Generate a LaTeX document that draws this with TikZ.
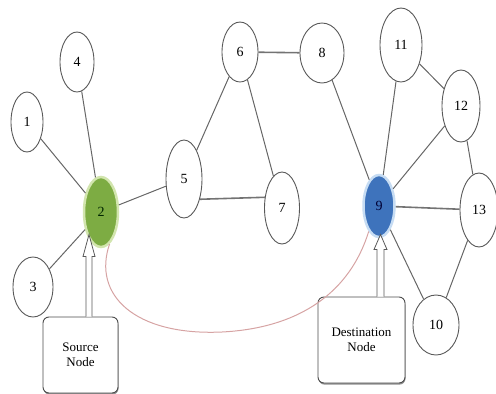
\documentclass[tikz,border=0pt]{standalone}
\usepackage{fontspec}
\setmainfont{Liberation Serif}
\usetikzlibrary{shapes.geometric,calc,shadows}
\definecolor{grnfill}{HTML}{7DAC43}
\definecolor{grnhalo}{HTML}{D2E5AE}
\definecolor{blufill}{HTML}{3E73BC}
\definecolor{bluhalo}{HTML}{C6DCF3}
\definecolor{pathred}{HTML}{D6A3A3}
\begin{document}
\begin{tikzpicture}[x=1pt,y=-1pt,
  vert/.style={ellipse,draw=black!65,line width=0.9pt,fill=white,inner sep=0pt,
    font=\fontsize{14}{16}\selectfont},
  src/.style={vert,draw=grnhalo,line width=2.5pt,fill=grnfill,text=black!85!green},
  dst/.style={vert,draw=bluhalo,line width=2.5pt,fill=blufill,text=black!80!blue},
  edge/.style={draw=black!60,line width=1pt},
  thick edge/.style={draw=black!55,line width=1.6pt},
  box/.style={draw=black!70,line width=0.9pt,rounded corners=6pt,fill=white,align=center,
    inner sep=0pt,font=\fontsize{13}{15}\selectfont,
    drop shadow={shadow xshift=0.5pt,shadow yshift=-1.6pt,fill=black!55,opacity=0.8}},
  hollow arrow/.style={draw=black!65,line width=0.8pt,fill=white,line join=miter},
  route/.style={draw=pathred,line width=1pt}
]
\useasboundingbox (0,0) rectangle (496,394);

% vertices
\node[vert,minimum width=32pt,minimum height=60pt] (n1) at (27,122) {1};
\node[vert,minimum width=34pt,minimum height=60pt] (n4) at (77,62) {4};
\node[vert,minimum width=40pt,minimum height=60pt] (n3) at (33,287) {3};
\node[src,minimum width=34pt,minimum height=70pt] (n2) at (101,212) {2};
\node[vert,minimum width=36pt,minimum height=78pt] (n5) at (184,179) {5};
\node[vert,minimum width=36pt,minimum height=60pt] (n6) at (240,52) {6};
\node[vert,minimum width=35pt,minimum height=72pt] (n7) at (282,208) {7};
\node[vert,minimum width=44pt,minimum height=60pt] (n8) at (322,53) {8};
\node[dst,minimum width=31pt,minimum height=62pt] (n9) at (379,206) {9};
\node[vert,minimum width=46pt,minimum height=60pt] (n10) at (436,325) {10};
\node[vert,minimum width=42pt,minimum height=74pt] (n11) at (401,45) {11};
\node[vert,minimum width=38pt,minimum height=72pt] (n12) at (461,106) {12};
\node[vert,minimum width=38pt,minimum height=74pt] (n13) at (479,210) {13};

% label boxes
\node[box,minimum width=75pt,minimum height=76pt] (sbox) at (80.5,355) {Source\\Node};
\node[box,minimum width=87pt,minimum height=86pt] (dbox) at (361.5,340) {Destination\\Node};

% edges
\draw[edge] (n1) -- (n2);
\draw[edge] (n4) -- (n2);
\draw[edge] (n3) -- (n2);
\draw[edge] (n2) -- (n5);
\draw[edge] (n5) -- (n6);
\draw[thick edge] (n5.-52.6) -- (n7.148.5);
\draw[thick edge] (n6) -- (n8);
\draw[edge] (n6) -- (n7);
\draw[edge] (n8) -- (n9);
\draw[edge] (n11) -- (n9);
\draw[edge] (n12) -- (n9);
\draw[thick edge] (n9) -- (n13);
\draw[edge] (n9) -- (n10);
\draw[edge] (n11) -- (n12);
\draw[edge] (n12) -- (n13);
\draw[edge] (n13) -- (n10);

% route from source to destination
\draw[route] (n2.-75) .. controls (92,295) and (135,336) .. (222,332)
  .. controls (300,328) and (350,292) .. (n9.-112);

% hollow arrows from boxes
\draw[hollow arrow] ($(sbox.north)+(5.5,0)$) -- ++(0,-60) -- ++(-3,0) -- ++(6,-22)
  -- ++(6,22) -- ++(-3,0) -- ++(0,60);
\draw[hollow arrow] ($(dbox.north)+(15.5,0)$) -- ++(0,-47) -- ++(-3,0) -- ++(6.5,-15)
  -- ++(6.5,15) -- ++(-3,0) -- ++(0,47);
\end{tikzpicture}
\end{document}
